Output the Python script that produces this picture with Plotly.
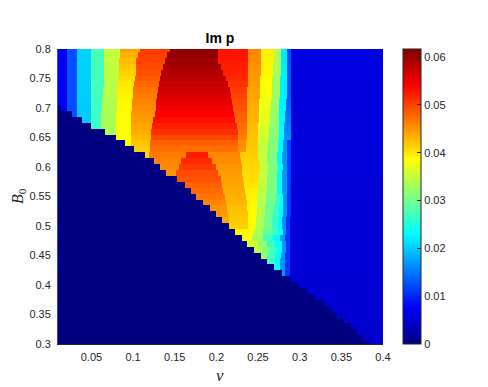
import numpy as np
import plotly.graph_objects as go

# B0 rows of the image, top to bottom (0.80 ... 0.30, step 0.01)
b0_rows = [round(0.80 - 0.01 * i, 2) for i in range(51)]

# nu where the zero (Im p = 0) region ends, one per B0 row
floor_nu = [0, 0, 0, 0, 0, 0, 0, 0, 0, 0,
            0.013, 0.027, 0.039, 0.050, 0.066, 0.079, 0.090, 0.101, 0.114, 0.125,
            0.132, 0.140, 0.153, 0.162, 0.170, 0.176, 0.184, 0.192, 0.199, 0.207,
            0.215, 0.222, 0.230, 0.237, 0.245, 0.253, 0.261, 0.269, 0.278, 0.288,
            0.298, 0.308, 0.318, 0.329, 0.337, 0.345, 0.353, 0.361, 0.368, 0.376,
            0.384]

# per B0 row: nu where each colour band starts, and the band's Im p value
band_starts = [
    [0.009, 0.021, 0.033, 0.049, 0.065, 0.084, 0.108, 0.144, 0.202, 0.238, 0.253, 0.269, 0.277, 0.285, 0.289],
    [0.009, 0.021, 0.033, 0.049, 0.065, 0.084, 0.106, 0.141, 0.202, 0.238, 0.253, 0.269, 0.277, 0.285, 0.289],
    [0.009, 0.021, 0.033, 0.049, 0.065, 0.083, 0.104, 0.138, 0.202, 0.238, 0.253, 0.269, 0.277, 0.285, 0.289],
    [0.009, 0.021, 0.033, 0.049, 0.065, 0.083, 0.104, 0.136, 0.205, 0.238, 0.253, 0.268, 0.277, 0.285, 0.289],
    [0.009, 0.021, 0.033, 0.049, 0.065, 0.083, 0.103, 0.134, 0.208, 0.238, 0.253, 0.268, 0.277, 0.284, 0.289],
    [0.009, 0.021, 0.033, 0.049, 0.065, 0.082, 0.102, 0.132, 0.211, 0.238, 0.252, 0.267, 0.276, 0.284, 0.289],
    [0.009, 0.021, 0.033, 0.049, 0.065, 0.082, 0.101, 0.131, 0.214, 0.238, 0.252, 0.267, 0.276, 0.284, 0.289],
    [0.009, 0.021, 0.033, 0.049, 0.064, 0.081, 0.100, 0.130, 0.216, 0.237, 0.252, 0.266, 0.276, 0.284, 0.289],
    [0.009, 0.021, 0.033, 0.049, 0.064, 0.081, 0.100, 0.129, 0.217, 0.237, 0.252, 0.266, 0.276, 0.284, 0.289],
    [0.009, 0.021, 0.033, 0.049, 0.063, 0.081, 0.099, 0.128, 0.219, 0.237, 0.251, 0.265, 0.275, 0.283, 0.289],
    [0.009, 0.021, 0.033, 0.049, 0.063, 0.081, 0.099, 0.128, 0.220, 0.237, 0.251, 0.265, 0.275, 0.283, 0.289],
    [0.009, 0.021, 0.033, 0.049, 0.062, 0.080, 0.098, 0.126, 0.221, 0.237, 0.251, 0.264, 0.275, 0.282, 0.289],
    [0.009, 0.021, 0.033, 0.049, 0.062, 0.080, 0.098, 0.124, 0.222, 0.237, 0.251, 0.264, 0.275, 0.282, 0.289],
    [0.009, 0.021, 0.033, 0.049, 0.061, 0.080, 0.097, 0.123, 0.224, 0.237, 0.250, 0.263, 0.275, 0.281, 0.289],
    [0.009, 0.021, 0.033, 0.049, 0.061, 0.080, 0.097, 0.122, 0.226, 0.237, 0.250, 0.263, 0.275, 0.281, 0.289],
    [0.009, 0.021, 0.033, 0.049, 0.061, 0.080, 0.097, 0.121, 0.226, 0.237, 0.250, 0.263, 0.275, 0.281, 0.289],
    [0.009, 0.021, 0.033, 0.049, 0.061, 0.080, 0.097, 0.120, 0.226, 0.235, 0.250, 0.262, 0.274, 0.280, 0.2845, 0.289],
    [0.097, 0.120, 0.226, 0.235, 0.250, 0.262, 0.274, 0.280, 0.2845, 0.289],
    [0.097, 0.119, 0.164, 0.190, 0.228, 0.250, 0.261, 0.273, 0.279, 0.2845, 0.289],
    [0.119, 0.157, 0.195, 0.229, 0.251, 0.261, 0.273, 0.279, 0.2845, 0.289],
    [0.119, 0.155, 0.200, 0.230, 0.252, 0.262, 0.274, 0.280, 0.2845, 0.289],
    [0.130, 0.151, 0.202, 0.231, 0.251, 0.261, 0.273, 0.279, 0.284, 0.289],
    [0.140, 0.205, 0.232, 0.251, 0.261, 0.273, 0.279, 0.284, 0.289],
    [0.140, 0.207, 0.233, 0.250, 0.260, 0.272, 0.278, 0.284, 0.289],
    [0.150, 0.208, 0.234, 0.250, 0.260, 0.272, 0.278, 0.284, 0.289],
    [0.150, 0.210, 0.235, 0.249, 0.259, 0.271, 0.277, 0.280, 0.284, 0.289],
    [0.150, 0.211, 0.236, 0.249, 0.259, 0.270, 0.276, 0.280, 0.284, 0.289],
    [0.150, 0.212, 0.237, 0.248, 0.258, 0.269, 0.275, 0.280, 0.284, 0.289],
    [0.150, 0.214, 0.238, 0.248, 0.258, 0.268, 0.275, 0.280, 0.284, 0.289],
    [0.150, 0.215, 0.238, 0.247, 0.257, 0.267, 0.274, 0.279, 0.283, 0.288],
    [0.200, 0.238, 0.247, 0.257, 0.266, 0.274, 0.279, 0.283, 0.288],
    [0.200, 0.245, 0.256, 0.267, 0.275, 0.280, 0.283, 0.288],
    [0.220, 0.243, 0.256, 0.268, 0.276, 0.282, 0.288],
    [0.230, 0.250, 0.260, 0.270, 0.278, 0.283, 0.288],
    [0.240, 0.256, 0.264, 0.272, 0.279, 0.283, 0.288],
    [0.245, 0.260, 0.270, 0.277, 0.282, 0.288],
    [0.255, 0.270, 0.276, 0.282, 0.288],
    [0.260, 0.276, 0.282, 0.288],
    [0.270, 0.278, 0.282, 0.288],
    [0.288], [0.288], [0.288], [0.288], [0.288], [0.288],
    [0.288], [0.288], [0.288], [0.288], [0.288], [0.288],
]
band_vals = [
    [0.0070, 0.0125, 0.0205, 0.0275, 0.0350, 0.0440, 0.0505, 0.0612, 0.0530, 0.0460, 0.0395, 0.0340, 0.0220, 0.0125, 0.0058],
    [0.0070, 0.0125, 0.0205, 0.0275, 0.0350, 0.0432, 0.0503, 0.0605, 0.0528, 0.0458, 0.0394, 0.0338, 0.0220, 0.0125, 0.0058],
    [0.0070, 0.0125, 0.0205, 0.0275, 0.0350, 0.0425, 0.0500, 0.0598, 0.0525, 0.0455, 0.0392, 0.0335, 0.0220, 0.0125, 0.0057],
    [0.0070, 0.0125, 0.0205, 0.0274, 0.0348, 0.0418, 0.0495, 0.0593, 0.0522, 0.0452, 0.0391, 0.0333, 0.0222, 0.0128, 0.0057],
    [0.0070, 0.0125, 0.0205, 0.0273, 0.0347, 0.0412, 0.0490, 0.0588, 0.0520, 0.0450, 0.0390, 0.0332, 0.0225, 0.0130, 0.0057],
    [0.0070, 0.0125, 0.0204, 0.0272, 0.0345, 0.0406, 0.0484, 0.0582, 0.0515, 0.0448, 0.0388, 0.0330, 0.0225, 0.0130, 0.0057],
    [0.0070, 0.0125, 0.0203, 0.0272, 0.0344, 0.0400, 0.0478, 0.0576, 0.0510, 0.0445, 0.0385, 0.0328, 0.0225, 0.0130, 0.0056],
    [0.0070, 0.0125, 0.0202, 0.0271, 0.0342, 0.0396, 0.0471, 0.0569, 0.0505, 0.0442, 0.0382, 0.0326, 0.0225, 0.0130, 0.0056],
    [0.0070, 0.0125, 0.0202, 0.0270, 0.0340, 0.0392, 0.0465, 0.0562, 0.0500, 0.0440, 0.0380, 0.0325, 0.0225, 0.0130, 0.0056],
    [0.0070, 0.0125, 0.0201, 0.0269, 0.0338, 0.0390, 0.0460, 0.0555, 0.0495, 0.0437, 0.0378, 0.0323, 0.0226, 0.0135, 0.0056],
    [0.0070, 0.0125, 0.0200, 0.0268, 0.0337, 0.0388, 0.0455, 0.0548, 0.0490, 0.0435, 0.0375, 0.0322, 0.0228, 0.0140, 0.0055],
    [0.0070, 0.0125, 0.0200, 0.0267, 0.0335, 0.0387, 0.0450, 0.0540, 0.0485, 0.0432, 0.0372, 0.0321, 0.0229, 0.0145, 0.0055],
    [0.0070, 0.0125, 0.0200, 0.0266, 0.0334, 0.0386, 0.0445, 0.0532, 0.0480, 0.0430, 0.0370, 0.0320, 0.0230, 0.0150, 0.0055],
    [0.0070, 0.0125, 0.0200, 0.0265, 0.0333, 0.0385, 0.0440, 0.0522, 0.0475, 0.0427, 0.0365, 0.0317, 0.0230, 0.0155, 0.0055],
    [0.0070, 0.0125, 0.0200, 0.0265, 0.0332, 0.0385, 0.0435, 0.0512, 0.0470, 0.0425, 0.0360, 0.0315, 0.0230, 0.0160, 0.0055],
    [0.0070, 0.0125, 0.0200, 0.0265, 0.0332, 0.0385, 0.0428, 0.0497, 0.0463, 0.0422, 0.0355, 0.0312, 0.0230, 0.0164, 0.0055],
    [0.0070, 0.0125, 0.0200, 0.0265, 0.0332, 0.0386, 0.0420, 0.0482, 0.0455, 0.0420, 0.0350, 0.0310, 0.0230, 0.0168, 0.0113, 0.0055],
    [0.0415, 0.0472, 0.0452, 0.0418, 0.0350, 0.0310, 0.0230, 0.0168, 0.0113, 0.0055],
    [0.0410, 0.0465, 0.0525, 0.0458, 0.0415, 0.0350, 0.0310, 0.0230, 0.0168, 0.0113, 0.0054],
    [0.0460, 0.0515, 0.0455, 0.0412, 0.0350, 0.0310, 0.0232, 0.0168, 0.0113, 0.0054],
    [0.0455, 0.0505, 0.0450, 0.0410, 0.0350, 0.0310, 0.0232, 0.0168, 0.0113, 0.0054],
    [0.0450, 0.0495, 0.0447, 0.0407, 0.0350, 0.0310, 0.0233, 0.0168, 0.0113, 0.0054],
    [0.0490, 0.0442, 0.0405, 0.0350, 0.0310, 0.0235, 0.0168, 0.0113, 0.0053],
    [0.0482, 0.0439, 0.0400, 0.0348, 0.0308, 0.0233, 0.0168, 0.0112, 0.0053],
    [0.0475, 0.0436, 0.0395, 0.0345, 0.0305, 0.0232, 0.0168, 0.0112, 0.0053],
    [0.0468, 0.0433, 0.0392, 0.0342, 0.0303, 0.0265, 0.0231, 0.0166, 0.0111, 0.0053],
    [0.0460, 0.0430, 0.0390, 0.0340, 0.0302, 0.0265, 0.0230, 0.0165, 0.0110, 0.0053],
    [0.0453, 0.0425, 0.0388, 0.0339, 0.0301, 0.0265, 0.0230, 0.0165, 0.0110, 0.0052],
    [0.0446, 0.0420, 0.0386, 0.0338, 0.0300, 0.0265, 0.0230, 0.0165, 0.0110, 0.0052],
    [0.0438, 0.0418, 0.0386, 0.0336, 0.0300, 0.0265, 0.0230, 0.0165, 0.0110, 0.0052],
    [0.0415, 0.0386, 0.0335, 0.0300, 0.0265, 0.0230, 0.0165, 0.0110, 0.0052],
    [0.0390, 0.0333, 0.0290, 0.0268, 0.0230, 0.0166, 0.0110, 0.0052],
    [0.0386, 0.0330, 0.0270, 0.0230, 0.0168, 0.0110, 0.0052],
    [0.0360, 0.0318, 0.0269, 0.0231, 0.0168, 0.0110, 0.0051],
    [0.0340, 0.0305, 0.0268, 0.0232, 0.0168, 0.0110, 0.0051],
    [0.0320, 0.0275, 0.0232, 0.0168, 0.0110, 0.0051],
    [0.0270, 0.0230, 0.0168, 0.0110, 0.0051],
    [0.0235, 0.0168, 0.0110, 0.0051],
    [0.0230, 0.0168, 0.0110, 0.0051],
    [0.0051], [0.0050], [0.0050], [0.0050], [0.0049], [0.0049],
    [0.0049], [0.0049], [0.0048], [0.0048], [0.0048], [0.0048],
]

nu_ticks = [0.05, 0.1, 0.15, 0.2, 0.25, 0.3, 0.35, 0.4]
b0_ticks = [0.3, 0.35, 0.4, 0.45, 0.5, 0.55, 0.6, 0.65, 0.7, 0.75, 0.8]
cbar_ticks = [0, 0.01, 0.02, 0.03, 0.04, 0.05, 0.06]

# nu cells (width 0.001) that the band table is painted on
nu_cells = np.arange(0.0095, 0.4, 0.001)

z = []
for i, b0 in enumerate(b0_rows):
    starts = band_starts[i]
    vals = band_vals[i]
    row = []
    for nu in nu_cells:
        if nu < floor_nu[i]:
            row.append(0.0)
            continue
        k = max(int(np.searchsorted(starts, nu, side="right")) - 1, 0)
        row.append(vals[k])
    z.append(row)

jet = [[0, "rgb(0,0,128)"], [0.125, "rgb(0,0,255)"], [0.375, "rgb(0,255,255)"],
       [0.625, "rgb(255,255,0)"], [0.875, "rgb(255,0,0)"], [1, "rgb(128,0,0)"]]

ink = "#262626"
fig = go.Figure(go.Heatmap(
    z=z, x=nu_cells, y=b0_rows, colorscale=jet, zmin=0, zmax=0.0617,
    colorbar=dict(thickness=18, len=1.0, lenmode="fraction", y=0.5, yanchor="middle",
                  x=1.061, xanchor="left", xpad=0, ypad=0,
                  outlinewidth=1, outlinecolor=ink,
                  tickvals=cbar_ticks, ticks="inside", ticklen=4, tickcolor=ink,
                  tickfont=dict(family="Liberation Sans, Arial", size=11, color=ink)),
))

# the page body has an 8px margin, so the figure is 8px smaller each way
fig.update_layout(
    width=480, height=379,
    margin=dict(l=49, r=105, t=41, b=43),
    paper_bgcolor="white", plot_bgcolor="white",
    title=dict(text="<b>Im p</b>", x=0.5, xref="paper", xanchor="center",
               y=1 - 30 / 379, yref="container", yanchor="middle",
               font=dict(family="Liberation Sans, Arial", size=14, color="black")),
    xaxis=dict(range=[0.0087, 0.4], tickvals=nu_ticks, ticks="outside", ticklen=3,
               tickcolor="rgba(0,0,0,0)", showgrid=False, zeroline=False,
               showline=True, linecolor=ink, linewidth=1,
               tickfont=dict(family="Liberation Sans, Arial", size=11, color=ink)),
    yaxis=dict(range=[0.3, 0.8], tickvals=b0_ticks, ticks="outside", ticklen=3,
               tickcolor="rgba(0,0,0,0)", showgrid=False, zeroline=False,
               tickfont=dict(family="Liberation Sans, Arial", size=11, color=ink)),
    annotations=[
        dict(text="<i>ν</i>", x=0.5, y=-0.108, xref="paper", yref="paper",
             xanchor="center", yanchor="middle", showarrow=False,
             font=dict(family="Liberation Serif, Times New Roman", size=17, color=ink)),
        dict(text="<i>B</i><sub>0</sub>", x=-0.118, y=0.5, xref="paper", yref="paper",
             xanchor="center", yanchor="middle", showarrow=False, textangle=-90,
             font=dict(family="Liberation Serif, Times New Roman", size=16, color=ink)),
    ],
)

fig.write_html("out.html")
